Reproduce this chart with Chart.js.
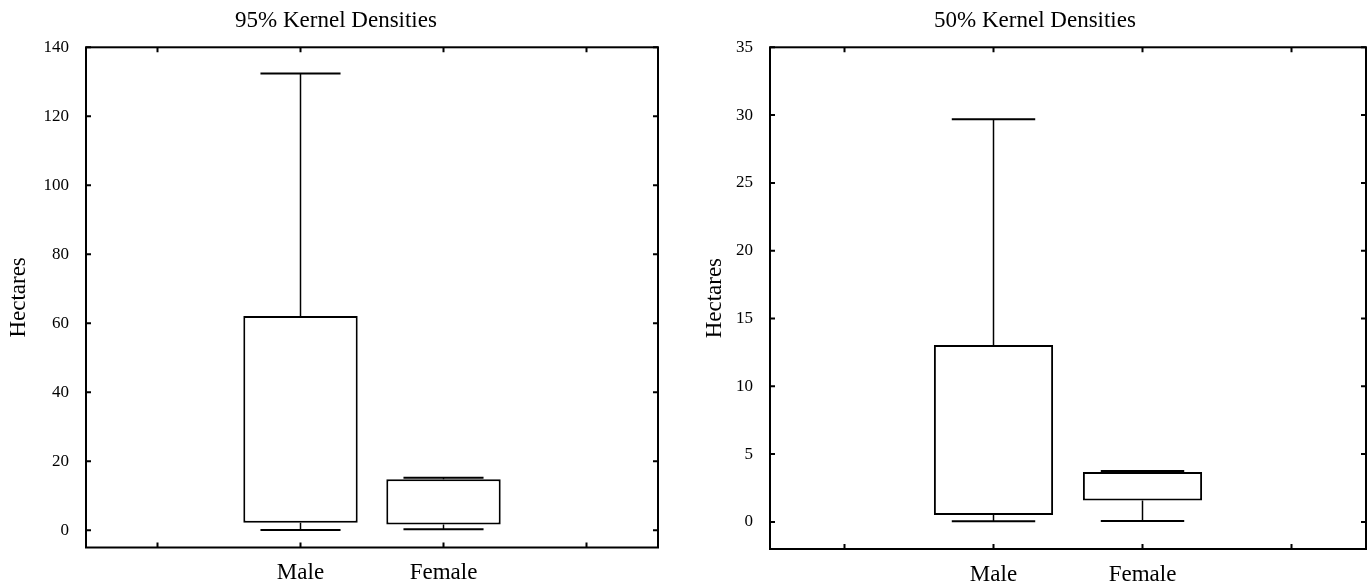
<!DOCTYPE html>
<html>
<head>
<meta charset="utf-8">
<title>Kernel Densities</title>
<script src="https://cdn.jsdelivr.net/npm/chart.js@4.4.1/dist/chart.umd.min.js"></script>
<style>
  body { margin: 0; background: #fff; overflow: hidden; }
  canvas { position: absolute; top: 0; }
  #left { left: 0; }
  #right { left: 684px; }
</style>
</head>
<body>
<canvas id="left" width="684" height="585"></canvas>
<canvas id="right" width="685" height="585"></canvas>
<script>
// categories, placed on a linear x axis
const categories = ["Male", "Female"];
const catPos = [1, 2];
const xTicks = [0, 1, 2, 3];

// 95% kernel densities (hectares)
const min95 = [0.1, 0.3];
const q1_95 = [2.2, 1.7];
const q3_95 = [62.1, 14.8];
const max95 = [132.4, 15.2];
const yTicks95 = [0, 20, 40, 60, 80, 100, 120, 140];

// 50% kernel densities (hectares)
const min50 = [0.05, 0.07];
const q1_50 = [0.5, 1.57];
const q3_50 = [13.05, 3.68];
const max50 = [29.7, 3.75];
const yTicks50 = [0, 5, 10, 15, 20, 25, 30, 35];

const CAP = 0.28; // half width of whisker caps, in x units

Chart.defaults.font.family = "'Liberation Serif', 'Times New Roman', serif";
Chart.defaults.color = "#000";

function boxData(q1s, q3s) {
    return catPos.map((x, i) => ({ x: x, y: [q1s[i], q3s[i]] }));
}

function stemData(mins, q1s, q3s, maxs) {
    const pts = [];
    catPos.forEach((x, i) => {
        pts.push({ x: x, y: maxs[i] }, { x: x, y: q3s[i] }, { x: x, y: null });
        pts.push({ x: x, y: q1s[i] }, { x: x, y: mins[i] }, { x: x, y: null });
    });
    return pts;
}

function capData(mins, maxs) {
    const pts = [];
    catPos.forEach((x, i) => {
        pts.push({ x: x - CAP, y: maxs[i] }, { x: x + CAP, y: maxs[i] }, { x: x, y: null });
        pts.push({ x: x - CAP, y: mins[i] }, { x: x + CAP, y: mins[i] }, { x: x, y: null });
    });
    return pts;
}

// frame round the plot area with short inward ticks on all four sides
const framePlugin = {
    id: "frame",
    afterDraw(chart) {
        const { ctx, chartArea: a, scales } = chart;
        ctx.save();
        ctx.strokeStyle = "#000";
        ctx.lineWidth = 2;
        ctx.strokeRect(a.left, a.top, a.right - a.left, a.bottom - a.top);
        ctx.beginPath();
        scales.y.ticks.forEach(t => {
            const py = scales.y.getPixelForValue(t.value);
            ctx.moveTo(a.left, py); ctx.lineTo(a.left + 5, py);
            ctx.moveTo(a.right, py); ctx.lineTo(a.right - 5, py);
        });
        scales.x.ticks.forEach(t => {
            const px = scales.x.getPixelForValue(t.value);
            ctx.moveTo(px, a.top); ctx.lineTo(px, a.top + 5);
            ctx.moveTo(px, a.bottom); ctx.lineTo(px, a.bottom - 5);
        });
        ctx.stroke();
        ctx.restore();
    }
};

function makeChart(id, titleText, mins, q1s, q3s, maxs, yMin, yMax, yTicks, g) {
    const ctx = document.getElementById(id).getContext("2d");
    return new Chart(ctx, {
        type: "bar",
        data: {
            datasets: [
                {
                    data: boxData(q1s, q3s),
                    backgroundColor: "#fff",
                    borderColor: "#000",
                    borderWidth: 2,
                    borderSkipped: false,
                    barPercentage: 1,
                    categoryPercentage: 0.8,
                },
                {
                    type: "line",
                    data: stemData(mins, q1s, q3s, maxs),
                    borderColor: "#000",
                    borderWidth: 1.5,
                    pointRadius: 0,
                    spanGaps: false,
                    fill: false,
                },
                {
                    type: "line",
                    data: capData(mins, maxs),
                    borderColor: "#000",
                    borderWidth: 2,
                    pointRadius: 0,
                    spanGaps: false,
                    fill: false,
                },
            ],
        },
        options: {
            responsive: false,
            animation: false,
            events: [],
            layout: { padding: { left: g.padLeft, right: g.padRight, top: 0, bottom: 0 } },
            plugins: {
                legend: { display: false },
                tooltip: { enabled: false },
                title: {
                    display: true,
                    text: titleText,
                    font: { size: 23, weight: "normal" },
                    padding: { top: 7, bottom: 12.7 },
                },
            },
            scales: {
                x: {
                    type: "linear",
                    position: "bottom",
                    min: -0.5,
                    max: 3.5,
                    offset: false,
                    grid: { display: false, offset: false },
                    border: { display: false },
                    afterBuildTicks: s => { s.ticks = xTicks.map(v => ({ value: v })); },
                    afterFit: s => { s.height = g.xHeight; },
                    ticks: {
                        autoSkip: false,
                        maxRotation: 0,
                        padding: 4,
                        font: { size: 23 },
                        callback: v => {
                            const k = catPos.indexOf(v);
                            return k >= 0 ? categories[k] : "";
                        },
                    },
                },
                y: {
                    type: "linear",
                    position: "left",
                    min: yMin,
                    max: yMax,
                    grid: { display: false },
                    border: { display: false },
                    afterBuildTicks: s => { s.ticks = yTicks.map(v => ({ value: v })); },
                    afterFit: s => { s.width = g.yWidth; },
                    ticks: { padding: 9, font: { size: 17 } },
                    title: {
                        display: true,
                        text: "Hectares",
                        font: { size: 23 },
                        padding: { top: g.yTitlePad, bottom: 0 },
                    },
                },
                y2: {
                    type: "linear",
                    position: "right",
                    grid: { display: false },
                    border: { display: false },
                    ticks: { display: false },
                    afterFit: s => { s.width = g.rightWidth; },
                },
            },
        },
        plugins: [framePlugin],
    });
}

makeChart("left", "95% Kernel Densities", min95, q1_95, q3_95, max95, -5, 140, yTicks95,
    { padLeft: 0, padRight: 12, yWidth: 86, rightWidth: 14, xHeight: 37.5, yTitlePad: 5 });
makeChart("right", "50% Kernel Densities", min50, q1_50, q3_50, max50, -2, 35, yTicks50,
    { padLeft: 17, padRight: 0, yWidth: 69, rightWidth: 3, xHeight: 36, yTitlePad: 0 });
</script>
</body>
</html>
